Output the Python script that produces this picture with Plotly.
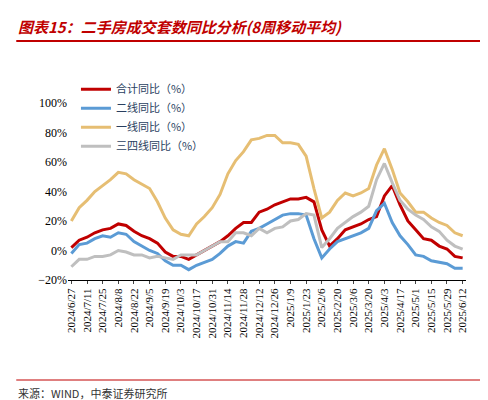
import pandas as pd
import plotly.graph_objects as go

dates = pd.date_range("2024-06-27", periods=51, freq="7D")

total = [2, 7, 9, 12, 14, 15, 18, 17, 13, 10, 8, 5, -1, -4, -4, -6, -3, 0, 3, 6,
         10, 15, 19, 19, 26, 28, 31, 33, 35, 35, 36, 33, 14, 3, 8, 14, 16, 18, 21, 23,
         37, 44, 31, 20, 14, 8, 7, 3, 1, -4, -5]
tier1 = [20, 29, 34, 40, 44, 48, 53, 52, 48, 45, 42, 33, 22, 14, 11, 10, 18, 23, 29, 38,
         52, 61, 67, 75, 76, 78, 78, 73, 73, 72, 64, 42, 22, 26, 34, 39, 37, 39, 42, 58,
         69, 55, 39, 33, 26, 26, 22, 19, 17, 12, 10]
tier2 = [-2, 4, 5, 8, 10, 9, 12, 11, 6, 3, 0, -2, -7, -10, -10, -13, -10, -8, -6, -2,
         3, 6, 5, 13, 15, 18, 21, 24, 25, 25, 24, 8, -5, 1, 6, 8, 10, 12, 15, 27,
         32, 19, 10, 4, -3, -4, -7, -8, -9, -12, -12]
tier34 = [-11, -6, -6, -4, -4, -3, 0, -1, -3, -3, -5, -4, -5, -6, -3, -3, -3, 0, 3, 6,
          6, 12, 12, 10, 15, 12, 15, 16, 20, 21, 25, 24, 2, 8, 15, 19, 23, 26, 30, 48,
          59, 46, 34, 28, 24, 21, 16, 13, 7, 3, 1]

tick_dates = dates[::2]
tick_text = [f"{d.year}/{d.month}/{d.day}" for d in tick_dates]

series = [
    ("合计同比（%）", total, "#C00000"),
    ("二线同比（%）", tier2, "#5B9BD5"),
    ("一线同比（%）", tier1, "#E6BE73"),
    ("三四线同比（%）", tier34, "#BFBFBF"),
]

fig = go.Figure()
for name, vals, color in series:
    fig.add_trace(go.Scatter(x=dates, y=vals, name=name, mode="lines",
                             line=dict(color=color, width=3)))

serif = "Liberation Serif"
fig.update_layout(
    width=488, height=400,
    paper_bgcolor="white", plot_bgcolor="white",
    margin=dict(l=60, r=30, t=95, b=128),
    showlegend=True,
    legend=dict(orientation="h", x=0.02, y=1.16, xanchor="left", yanchor="top",
                entrywidth=200, font=dict(size=11, family="Noto Sans CJK SC"),
                bgcolor="rgba(0,0,0,0)", tracegroupgap=0),
    annotations=[
        dict(text="<b><i>图表15：二手房成交套数同比分析(8周移动平均)</i></b>", x=-0.13, y=1.435,
             xref="paper", yref="paper", xanchor="left", yanchor="middle",
             showarrow=False,
             font=dict(size=15, color="#C00000", family="Noto Sans CJK SC")),
        dict(text="来源：WIND，中泰证券研究所", x=-0.13, y=-0.64, xref="paper",
             yref="paper", xanchor="left", yanchor="middle", showarrow=False,
             font=dict(size=11, color="#333333", family="Noto Sans CJK SC")),
    ],
    shapes=[
        dict(type="line", xref="paper", yref="paper", x0=-0.13, x1=1.07,
             y0=1.35, y1=1.35, line=dict(color="#C00000", width=2)),
        dict(type="line", xref="paper", yref="paper", x0=-0.13, x1=1.07,
             y0=-0.565, y1=-0.565, line=dict(color="#C00000", width=1)),
    ],
)
fig.update_xaxes(tickvals=tick_dates, ticktext=tick_text, tickangle=-90,
                 showgrid=False, showline=True, linecolor="black", ticks="outside",
                 ticklen=3, range=[dates[0] - pd.Timedelta(days=3), dates[-1] + pd.Timedelta(days=3)],
                 tickfont=dict(family=serif, size=11, color="black"))
fig.update_yaxes(range=[-20, 100], dtick=20, ticksuffix="%", showgrid=False,
                 zeroline=False, showline=False,
                 tickfont=dict(family=serif, size=12, color="black"))

fig.write_html("out.html")
